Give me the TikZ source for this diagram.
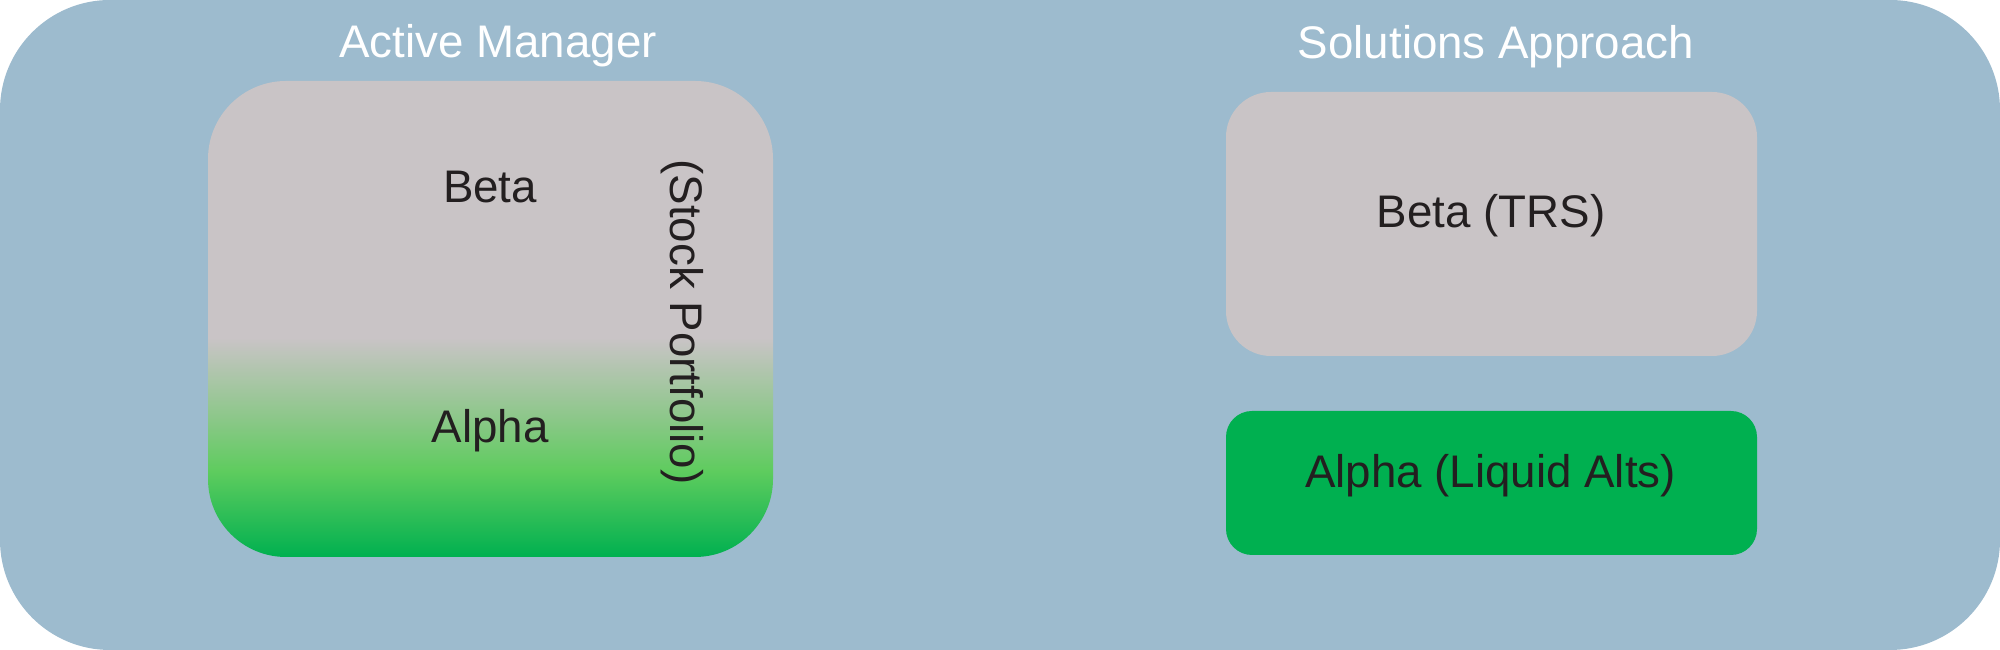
\documentclass[tikz,border=0pt]{standalone}
\usepackage{fontspec}
\setmainfont{Liberation Sans}
\definecolor{bgblue}{HTML}{9DBBCE}
\definecolor{boxgray}{HTML}{C9C4C6}
\definecolor{boxgreen}{HTML}{00B050}
\definecolor{midgreen}{HTML}{5ECC5E}
\definecolor{lightgreen}{HTML}{8FC78C}
\definecolor{txtdark}{HTML}{231F20}
\pgfdeclareverticalshading{stockshade}{100bp}{color(0bp)=(boxgreen); color(25bp)=(boxgreen); color(34bp)=(midgreen); color(40bp)=(lightgreen); color(48bp)=(boxgray); color(100bp)=(boxgray)}
\tikzset{
  lbl/.style={font=\fontsize{13}{15.6}\selectfont, text=txtdark, inner sep=0pt, anchor=base},
  ttl/.style={lbl, text=white},
  panel/.style={inner sep=0pt, draw=none}
}
\begin{document}
\begin{tikzpicture}
\useasboundingbox (0,0) rectangle (20,6.5);
\fill[bgblue, rounded corners=1.1cm] (0,0) rectangle (20,6.5);
\node[panel, minimum width=5.65cm, minimum height=4.76cm, rounded corners=0.78cm, shading=stockshade, shade] (active) at (4.905,3.31) {};
\node[panel, fill=boxgray, minimum width=5.31cm, minimum height=2.64cm, rounded corners=0.45cm] (beta) at (14.915,4.26) {};
\node[panel, fill=boxgreen, minimum width=5.31cm, minimum height=1.44cm, rounded corners=0.26cm] (alpha) at (14.915,1.67) {};
\node[ttl] (t1) at (4.98,5.92) {Active Manager};
\node[ttl] (t2) at (14.96,5.91) {Solutions Approach};
\node[lbl] (b1) at (4.90,4.47) {Beta};
\node[lbl] (a1) at (4.90,2.07) {Alpha};
\node[lbl, rotate=-90] (sp) at (6.70,3.28) {(Stock Portfolio)};
\node[lbl] (b2) at (14.91,4.22) {Beta (TRS)};
\node[lbl] (a2) at (14.905,1.62) {Alpha (Liquid Alts)};
\end{tikzpicture}
\end{document}
